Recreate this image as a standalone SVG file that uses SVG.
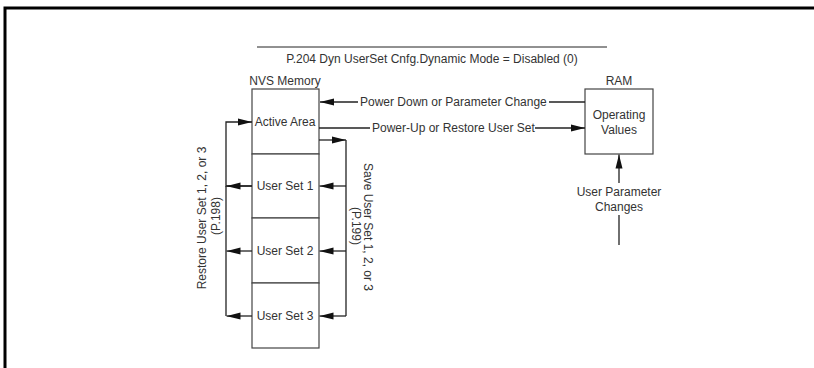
<svg xmlns="http://www.w3.org/2000/svg" width="814" height="368" viewBox="0 0 814 368">
<defs>
<style>
text{font-family:"Liberation Sans",Arial,sans-serif;font-size:12px;fill:#333}
.c{text-anchor:middle}
.box{fill:#fff;stroke:#444;stroke-width:1.2}
.ln{stroke:#222;stroke-width:1.3;fill:none}
.frame{stroke:#000;stroke-width:3;fill:none}
</style>
<marker id="ah" viewBox="0 0 14 8" refX="14" refY="4" markerWidth="14" markerHeight="8" markerUnits="userSpaceOnUse" orient="auto">
<path d="M0,0.5 L14,4 L0,7.5 Z" fill="#111"/>
</marker>
</defs>
<rect width="814" height="368" fill="#fff"/>
<path class="frame" d="M5,368 V8 H814"/>
<g id="title">
<line x1="257" y1="47" x2="607" y2="47" stroke="#222" stroke-width="1"/>
<text class="c" x="432" y="63">P.204 Dyn UserSet Cnfg.Dynamic Mode = Disabled (0)</text>
</g>
<g id="nvs">
<text class="c" x="285" y="85">NVS Memory</text>
</g>
<g id="active-area">
<rect class="box" x="252" y="89" width="67" height="65"/>
<text class="c" x="285" y="126">Active Area</text>
</g>
<g id="user-set-1">
<rect class="box" x="252" y="154" width="67" height="64"/>
<text class="c" x="285" y="190">User Set 1</text>
</g>
<g id="user-set-2">
<rect class="box" x="252" y="218" width="67" height="65"/>
<text class="c" x="285" y="255">User Set 2</text>
</g>
<g id="user-set-3">
<rect class="box" x="252" y="283" width="67" height="65"/>
<text class="c" x="285" y="320">User Set 3</text>
</g>
<g id="ram">
<text class="c" x="619" y="85">RAM</text>
<rect class="box" x="585" y="89" width="68" height="65"/>
<text class="c" x="619" y="119">Operating</text>
<text class="c" x="619" y="134">Values</text>
</g>
<g id="connectors">
<line class="ln" x1="358" y1="102" x2="320" y2="102" marker-end="url(#ah)"/>
<line class="ln" x1="549" y1="102" x2="585" y2="102"/>
<text x="360" y="106">Power Down or Parameter Change</text>
<line class="ln" x1="319" y1="128" x2="370" y2="128"/>
<line class="ln" x1="535" y1="128" x2="585" y2="128" marker-end="url(#ah)"/>
<text x="372" y="132">Power-Up or Restore User Set</text>
<path class="ln" d="M252,186 H226 V122 H252" marker-end="url(#ah)"/>
<line class="ln" x1="252" y1="186" x2="226.5" y2="186" marker-end="url(#ah)"/>
<line class="ln" x1="252" y1="251" x2="226.5" y2="251" marker-end="url(#ah)"/>
<line class="ln" x1="226" y1="186" x2="226" y2="316"/>
<line class="ln" x1="252" y1="316" x2="226.5" y2="316" marker-end="url(#ah)"/>
<line class="ln" x1="319" y1="140" x2="346" y2="140" marker-end="url(#ah)"/>
<line class="ln" x1="346" y1="140" x2="346" y2="316"/>
<line class="ln" x1="346" y1="186" x2="319.5" y2="186" marker-end="url(#ah)"/>
<line class="ln" x1="346" y1="251" x2="319.5" y2="251" marker-end="url(#ah)"/>
<line class="ln" x1="346" y1="316" x2="319.5" y2="316" marker-end="url(#ah)"/>
<text class="c" transform="translate(206,218) rotate(-90)">Restore User Set 1, 2, or 3</text>
<text class="c" transform="translate(220,216) rotate(-90)">(P.198)</text>
<text class="c" transform="translate(364,227) rotate(90)">Save User Set 1, 2, or 3</text>
<text class="c" transform="translate(352,226) rotate(90)">(P.199)</text>
<line class="ln" x1="619" y1="183" x2="619" y2="154.5" marker-end="url(#ah)"/>
<line class="ln" x1="619" y1="215" x2="619" y2="245"/>
<text class="c" x="619" y="196">User Parameter</text>
<text class="c" x="619" y="211">Changes</text>
</g>
</svg>
